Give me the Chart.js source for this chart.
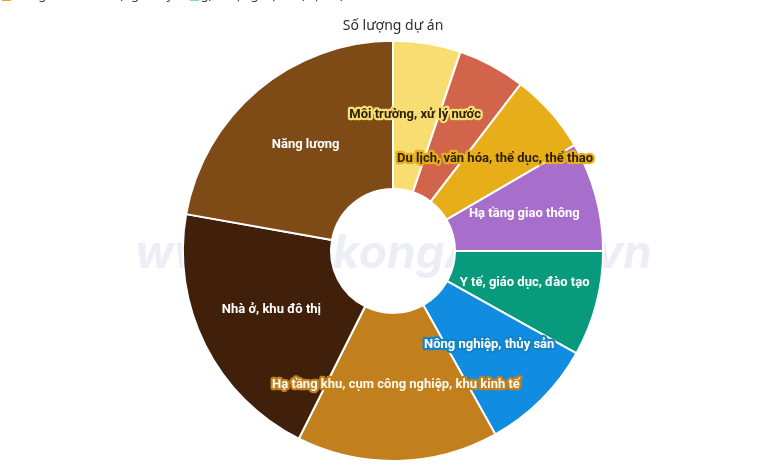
<!DOCTYPE html>
<html>
<head>
<meta charset="utf-8">
<script src="https://cdn.jsdelivr.net/npm/chart.js@4.4.1/dist/chart.umd.min.js"></script>
<style>
  html, body { margin: 0; padding: 0; background: #fff; }
  #wrap { width: 782px; height: 469px; }
</style>
</head>
<body>
<div id="wrap"><canvas id="chart"></canvas></div>
<script>
// Số lượng dự án theo lĩnh vực (tỷ lệ %)
const sectors = [
  'Môi trường, xử lý nước',
  'Khác',
  'Du lịch, văn hóa, thể dục, thể thao',
  'Hạ tầng giao thông',
  'Y tế, giáo dục, đào tạo',
  'Nông nghiệp, thủy sản',
  'Hạ tầng khu, cụm công nghiệp, khu kinh tế',
  'Nhà ở, khu đô thị',
  'Năng lượng',
];
const projectShare = [5.2, 5.2, 6.2, 8.4, 8.1, 8.8, 15.5, 20.4, 22.2];
const sliceColors = ['#F8DE72', '#D2644B', '#E8AE19', '#A86ECB', '#079A7C', '#108CE0', '#C1801D', '#40200A', '#7E4B17'];
const labelColors = ['#2a1f00', null, '#2a1f00', '#fff', '#fff', '#fff', '#fff8ec', '#fff', '#fff'];
const haloColors = ['#F8DE72', null, '#E8AE19', null, null, '#1583c8', '#C1801D', null, null];

// watermark behind the slices
const watermark = {
  id: 'watermark',
  beforeDatasetsDraw(chart) {
    const ctx = chart.ctx;
    ctx.save();
    ctx.font = 'italic bold 46px Inter';
    ctx.fillStyle = '#edeef5';
    ctx.textBaseline = 'alphabetic';
    ctx.textAlign = 'left';
    ctx.fillText('www.', 135, 268);
    ctx.fillText('kongA', 333, 268);
    ctx.textAlign = 'right';
    ctx.fillText('vn', 652, 268);
    ctx.restore();
  },
  afterDraw(chart) {
    // legend line cut off at the top edge
    const ctx = chart.ctx;
    ctx.save();
    ctx.font = '13px "Noto Sans"';
    ctx.textBaseline = 'alphabetic';
    ctx.fillStyle = '#F0A030';
    ctx.fillRect(2, -8, 9, 9);
    ctx.fillStyle = '#7FD0E8';
    ctx.fillRect(190, -8, 9, 9);
    ctx.fillStyle = '#444';
    ctx.fillText('Tổng vốn đầu tư (nghìn tỷ đồng)', 16, -1);
    ctx.fillText('Số lượng dự án (dự án)', 204, -1);
    ctx.restore();
  }
};

const sliceLabels = {
  id: 'sliceLabels',
  afterDatasetsDraw(chart) {
    const ctx = chart.ctx;
    const arcs = chart.getDatasetMeta(0).data;
    ctx.save();
    ctx.font = 'bold 13px Roboto';
    ctx.textAlign = 'center';
    ctx.textBaseline = 'middle';
    ctx.lineJoin = 'round';
    arcs.forEach((arc, i) => {
      if (!labelColors[i]) return;
      const p = arc.getCenterPoint(true);
      const y = p.y - 2;
      if (haloColors[i]) {
        ctx.strokeStyle = haloColors[i];
        ctx.lineWidth = 4.5;
        ctx.strokeText(sectors[i], p.x, y);
      }
      ctx.fillStyle = labelColors[i];
      ctx.fillText(sectors[i], p.x, y);
    });
    ctx.restore();
  }
};

new Chart(document.getElementById('chart'), {
  type: 'doughnut',
  data: {
    labels: sectors,
    datasets: [{
      data: projectShare,
      backgroundColor: sliceColors,
      borderColor: '#fff',
      borderWidth: 2,
    }],
  },
  options: {
    responsive: true,
    maintainAspectRatio: false,
    animation: false,
    cutout: '29.5%',
    layout: { padding: { left: 4, bottom: 7 } },
    plugins: {
      legend: { display: false },
      tooltip: { enabled: false },
      title: {
        display: true,
        text: 'Số lượng dự án',
        color: '#2e2e2e',
        font: { family: '"Noto Sans"', size: 14, weight: 'normal' },
        padding: { top: 18, bottom: 5 },
      },
    },
  },
  plugins: [watermark, sliceLabels],
});
</script>
</body>
</html>
